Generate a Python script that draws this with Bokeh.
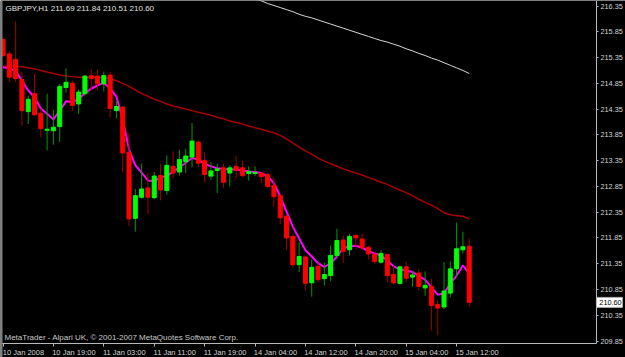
from bokeh.plotting import figure
from bokeh.models import (Range1d, FixedTicker, PrintfTickFormatter, ColumnDataSource, Label,
                          Span, LinearAxis)
from bokeh.embed import file_html
from bokeh.resources import INLINE
from bokeh.core.properties import value

symbol_title = "GBPJPY,H1  211.69 211.84 210.51 210.60"
copyright_text = "MetaTrader - Alpari UK, \u00a9 2001-2007 MetaQuotes Software Corp."
last_price = 210.60

opens = [215.70, 215.42, 215.31, 214.92, 214.30, 214.65, 214.27, 213.94, 213.93, 214.01,
         214.77, 214.85, 214.45, 214.65, 215.00, 214.99, 214.84, 215.01, 214.32, 214.39,
         213.51, 212.23, 212.64, 212.82, 212.63, 213.06, 212.77, 213.24, 213.13, 213.33,
         213.42, 213.71, 213.35, 213.05, 213.16, 213.21, 213.11, 213.24, 213.21, 213.10,
         213.10, 213.11, 213.08, 212.87, 212.67, 212.27, 211.88, 211.33, 211.48, 210.98,
         211.30, 211.06, 211.12, 211.51, 211.81, 211.62, 211.90, 211.83, 211.67, 211.53,
         211.38, 211.53, 211.14, 210.97, 211.29, 211.09, 211.17, 210.88, 210.91, 210.56,
         210.51, 210.78, 211.25, 211.62, 211.69]
highs = [215.75, 215.47, 216.05, 215.07, 214.61, 215.03, 214.36, 214.65, 214.34, 214.84,
         215.14, 214.90, 214.73, 215.01, 215.13, 215.12, 215.08, 215.07, 214.50, 214.40,
         213.87, 212.80, 213.29, 213.11, 213.13, 213.29, 213.45, 213.53, 213.56, 213.58,
         214.08, 213.75, 213.51, 213.32, 213.29, 213.29, 213.26, 213.44, 213.35, 213.24,
         213.24, 213.12, 213.11, 213.04, 212.71, 212.32, 211.92, 211.77, 211.49, 211.43,
         211.37, 211.37, 211.70, 212.03, 211.90, 211.93, 211.91, 211.93, 211.70, 211.57,
         211.62, 211.55, 211.31, 211.31, 211.39, 211.21, 211.25, 211.20, 211.06, 210.64,
         211.38, 211.40, 212.15, 211.97, 211.84]
lows = [215.36, 214.87, 214.87, 214.03, 214.06, 214.22, 213.80, 213.55, 213.66, 213.71,
        214.67, 214.31, 214.26, 214.61, 214.71, 214.71, 214.69, 214.19, 214.17, 213.12,
        212.08, 211.97, 212.61, 212.32, 212.60, 212.58, 212.69, 213.01, 213.06, 213.11,
        213.22, 213.22, 212.93, 212.98, 212.72, 212.82, 212.85, 213.00, 213.03, 212.96,
        213.05, 212.91, 212.82, 212.45, 212.12, 211.62, 211.28, 211.19, 210.83, 210.71,
        210.99, 210.93, 211.01, 211.45, 211.37, 211.51, 211.62, 211.61, 211.43, 211.35,
        211.35, 210.99, 210.95, 210.95, 210.99, 210.91, 210.83, 210.73, 210.05, 209.96,
        210.47, 210.70, 211.09, 211.55, 210.51]
closes = [215.39, 214.97, 214.94, 214.32, 214.54, 214.24, 213.97, 213.96, 214.00, 214.79,
          214.87, 214.42, 214.68, 214.99, 214.94, 214.84, 215.00, 214.36, 214.40, 213.50,
          212.22, 212.67, 212.80, 212.64, 213.05, 212.78, 213.26, 213.11, 213.37, 213.44,
          213.73, 213.30, 213.08, 213.15, 213.19, 212.93, 213.21, 213.16, 213.06, 213.14,
          213.12, 213.04, 212.85, 212.65, 212.24, 211.85, 211.33, 211.49, 210.97, 211.28,
          211.04, 211.14, 211.51, 211.80, 211.59, 211.88, 211.85, 211.66, 211.54, 211.39,
          211.55, 211.12, 210.98, 211.29, 211.07, 211.13, 210.91, 210.93, 210.54, 210.49,
          210.82, 211.25, 211.64, 211.68, 210.60]
ma_fast = [215.16, 215.14, 215.10, 214.90, 214.71, 214.58, 214.36, 214.26, 214.15, 214.32,
           214.50, 214.49, 214.54, 214.66, 214.75, 214.81, 214.86, 214.75, 214.59, 214.15,
           213.57, 213.26, 213.12, 212.96, 212.96, 213.02, 213.06, 213.13, 213.22, 213.31,
           213.40, 213.37, 213.29, 213.24, 213.20, 213.19, 213.18, 213.18, 213.16, 213.14,
           213.13, 213.11, 213.05, 212.91, 212.66, 212.36, 212.07, 211.84, 211.61, 211.49,
           211.36, 211.29, 211.35, 211.49, 211.65, 211.69, 211.70, 211.66, 211.59, 211.55,
           211.51, 211.41, 211.30, 211.24, 211.22, 211.19, 211.11, 211.04, 210.89, 210.75,
           210.77, 210.97, 211.12, 211.32, 211.15]
ma_slow = [215.18, 215.18, 215.18, 215.17, 215.15, 215.13, 215.10, 215.07, 215.04, 215.01,
           214.99, 214.98, 214.97, 214.97, 214.97, 214.97, 214.96, 214.94, 214.90, 214.85,
           214.79, 214.72, 214.65, 214.60, 214.54, 214.50, 214.45, 214.41, 214.38, 214.35,
           214.32, 214.29, 214.26, 214.23, 214.19, 214.16, 214.12, 214.09, 214.06, 214.02,
           213.99, 213.96, 213.92, 213.89, 213.84, 213.77, 213.69, 213.61, 213.54, 213.47,
           213.40, 213.34, 213.29, 213.24, 213.19, 213.15, 213.11, 213.07, 213.02, 212.98,
           212.93, 212.89, 212.83, 212.78, 212.73, 212.67, 212.60, 212.54, 212.49, 212.42,
           212.34, 212.30, 212.28, 212.27, 212.22]
ma_long = [float("nan")] * 40 + [
           216.49, 216.45, 216.40, 216.36, 216.32, 216.28, 216.24, 216.19, 216.15, 216.12,
           216.08, 216.04, 216.00, 215.96, 215.92, 215.88, 215.84, 215.80, 215.76, 215.72,
           215.68, 215.65, 215.61, 215.57, 215.52, 215.48, 215.43, 215.39, 215.34, 215.30,
           215.25, 215.20, 215.15, 215.10, 215.04]

x_tick_bars = [0, 8, 16, 24, 32, 40, 48, 56, 64, 72]
x_tick_labels = ["10 Jan 2008", "10 Jan 19:00", "11 Jan 03:00", "11 Jan 11:00", "11 Jan 19:00",
                 "14 Jan 04:00", "14 Jan 12:00", "14 Jan 20:00", "15 Jan 04:00", "15 Jan 12:00"]
y_ticks = [209.85, 210.35, 210.85, 211.35, 211.85, 212.35, 212.85, 213.35, 213.85,
           214.35, 214.85, 215.35, 215.85, 216.35]

FONT = "Liberation Sans"
TXT = "#D4D4D4"
AXC = "#B8B8B8"

# frame covers the whole window; axes are pinned inside it (MetaTrader-like layout)
PX_PER_BAR = 6.3
PX_PER_YEN = 51.54
X0 = -0.4
Y1 = 216.457
X1 = X0 + 625 / PX_PER_BAR
Y0 = Y1 - 357 / PX_PER_YEN
X_AXIS_AT = Y1 - 343 / PX_PER_YEN      # bottom price edge
Y_AXIS_AT = X0 + 596 / PX_PER_BAR      # right edge of chart area
LABEL_SHIFT = 3.25                      # MetaTrader writes time labels to the right of the tick

idx = list(range(len(opens)))
up = [c >= o for o, c in zip(opens, closes)]
src = ColumnDataSource(dict(
    x=idx,
    top=[max(o, c) for o, c in zip(opens, closes)],
    bottom=[min(o, c) for o, c in zip(opens, closes)],
    high=highs, low=lows,
    body=["#00FF00" if u else "#FF0000" for u in up],
    wick=["#009A00" if u else "#A00000" for u in up],
))

p = figure(frame_width=625, frame_height=357, x_range=Range1d(X0, X1), y_range=Range1d(Y0, Y1),
           y_axis_location="right", toolbar_location=None, output_backend="svg",
           background_fill_color="black", border_fill_color="black", outline_line_color=None,
           min_border_left=0, min_border_top=0, min_border_right=0, min_border_bottom=0)
p.xgrid.visible = False
p.ygrid.visible = False

# x axis: line and ticks
xa = p.xaxis[0]
xa.fixed_location = X_AXIS_AT
xa.bounds = (X0, Y_AXIS_AT)
xa.ticker = FixedTicker(ticks=x_tick_bars)
xa.major_label_overrides = {t: "" for t in x_tick_bars}
xa.major_label_text_font_size = "1px"
xa.axis_line_color = AXC
xa.major_tick_line_color = AXC
xa.major_tick_out = 3
xa.major_tick_in = 0
xa.minor_tick_line_color = None

# x axis labels, left-aligned to their ticks
label_pos = [b + LABEL_SHIFT for b in x_tick_bars]
xl = LinearAxis(fixed_location=X_AXIS_AT, ticker=FixedTicker(ticks=label_pos),
                major_label_overrides={pos: t for pos, t in zip(label_pos, x_tick_labels)},
                axis_line_color=None, major_tick_line_color=None, minor_tick_line_color=None,
                major_tick_out=0, major_tick_in=0,
                major_label_standoff=4, major_label_text_color=TXT,
                major_label_text_font=FONT, major_label_text_font_size="7.5px")
p.add_layout(xl, "below")

ya = p.yaxis[0]
ya.fixed_location = Y_AXIS_AT
ya.bounds = (X_AXIS_AT, Y1)
ya.ticker = FixedTicker(ticks=y_ticks)
ya.formatter = PrintfTickFormatter(format="%.2f")
ya.axis_line_color = AXC
ya.major_tick_line_color = AXC
ya.major_tick_out = 2
ya.major_tick_in = 0
ya.minor_tick_line_color = None
ya.major_label_standoff = 2
ya.major_label_text_color = TXT
ya.major_label_text_font = FONT
ya.major_label_text_font_size = "7.3px"

# moving averages
p.line(idx, ma_slow, line_color="#A80000", line_width=1.5)
p.line(idx, ma_long, line_color="#D8D8D8", line_width=1)
p.line(idx, ma_fast, line_color="#FF00FF", line_width=2)

# candles
p.segment(x0="x", y0="low", x1="x", y1="high", line_color="wick", line_width=1, source=src)
p.vbar(x="x", width=0.64, top="top", bottom="bottom", fill_color="body", line_color="body",
       line_width=1, source=src)

# current price marker on the price scale
p.rect(x=[Y_AXIS_AT + 2.05], y=[last_price], width=26, height=10, width_units="screen",
       height_units="screen", fill_color="white", line_color="#B0B0B0", line_width=1)
p.text(x=[Y_AXIS_AT + 0.45], y=[last_price], text=["%.2f" % last_price], text_align="left",
       text_baseline="middle", text_color="black", text_font=value(FONT),
       text_font_size=value("7.3px"))

# left border
p.add_layout(Span(location=X0 + 1 / PX_PER_BAR, dimension="height", line_color="#808080",
                  line_width=2))

p.add_layout(Label(x=X0 + 5 / PX_PER_BAR, y=Y1 - 7.5 / PX_PER_YEN, text=symbol_title,
                   text_align="left", text_baseline="middle", text_color="#E0E0E0",
                   text_font=FONT, text_font_size="8px"))
p.add_layout(Label(x=X0 + 4 / PX_PER_BAR, y=Y1 - 336.5 / PX_PER_YEN, text=copyright_text,
                   text_align="left", text_baseline="middle", text_color="#C8C8C8",
                   text_font=FONT, text_font_size="8px"))

open("out.html", "w").write(file_html(p, INLINE))
